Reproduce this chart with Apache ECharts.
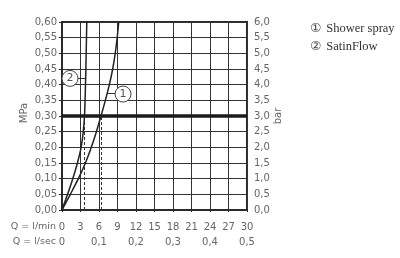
<!DOCTYPE html>
<html>
<head>
<meta charset="utf-8">
<script src="https://cdn.jsdelivr.net/npm/echarts@6/dist/echarts.min.js"></script>
<style>html,body{margin:0;padding:0;background:#fff}#c{width:400px;height:258px}</style>
</head>
<body>
<div id="c"></div>
<script>
// pressure levels (MPa)
const pressureMPa = [0, 0.05, 0.10, 0.15, 0.20, 0.25, 0.30, 0.35, 0.40, 0.45, 0.50, 0.55, 0.60];
// flow (l/min) at each pressure level
const showerSprayQ = [0, 1.35, 2.65, 3.80, 4.75, 5.58, 6.32, 7.03, 7.68, 8.22, 8.63, 8.95, 9.20];
const satinFlowQ   = [0, 0.90, 1.75, 2.50, 3.10, 3.45, 3.65, 3.74, 3.81, 3.87, 3.92, 3.97, 4.02];
const seriesNames = ['Shower spray', 'SatinFlow'];
const operatingPressure = 0.30;

const opIdx = pressureMPa.indexOf(operatingPressure);
const toPairs = q => q.map((v, i) => [v, pressureMPa[i]]);
const comma = (v, d) => v.toFixed(d).replace('.', ',');

const font = 'DejaVu Sans';
const grey = '#666';
const dark = '#2a2a2a';

const chart = echarts.init(document.getElementById('c'), null, {renderer: 'canvas'});

function circleMark(label, q, p) {
  return {
    coord: [q, p], value: label,
    symbol: 'circle', symbolSize: 16,
    itemStyle: {color: '#fff', borderColor: '#444', borderWidth: 1},
    label: {show: true, position: 'inside', formatter: label, color: '#555', fontSize: 11, fontFamily: font}
  };
}

chart.setOption({
  animation: false,
  backgroundColor: '#fff',
  grid: {left: 62, right: 153, top: 22, bottom: 48, show: true, borderColor: dark, borderWidth: 2},
  legend: {
    orient: 'vertical', left: 300, top: 17, icon: 'none', itemWidth: 0, itemHeight: 0, itemGap: 4,
    data: seriesNames,
    formatter: n => '{c|' + (n === seriesNames[0] ? '\u2460' : '\u2461') + '}' + n,
    textStyle: {
      fontFamily: 'Liberation Serif', fontSize: 12.5, color: '#333', lineHeight: 14,
      rich: {c: {fontFamily: 'DejaVu Sans', fontSize: 12.5, color: '#444', padding: [0, 5, 0, 0]}}
    }
  },
  xAxis: [{
    type: 'value', min: 0, max: 30, interval: 3, position: 'bottom',
    axisLine: {show: true, lineStyle: {color: dark, width: 2}},
    axisTick: {show: true, length: 2, lineStyle: {color: dark}},
    axisLabel: {color: grey, fontFamily: font, fontSize: 10, margin: 12},
    splitLine: {show: true, lineStyle: {color: '#333', width: 1}}
  }, {
    type: 'value', min: 0, max: 30, interval: 6, position: 'bottom', offset: 15,
    axisLine: {show: false}, axisTick: {show: false}, splitLine: {show: false},
    axisLabel: {color: grey, fontFamily: font, fontSize: 10, margin: 12,
      formatter: v => v === 0 ? '0' : comma(v / 60, 1)}
  }],
  yAxis: [{
    type: 'value', min: 0, max: 0.6, interval: 0.05, position: 'left',
    name: 'MPa', nameLocation: 'middle', nameGap: 33, nameRotate: 90,
    nameTextStyle: {color: grey, fontFamily: font, fontSize: 10, padding: [0, 0, 0, 6]},
    axisLine: {show: true, lineStyle: {color: dark, width: 2}},
    axisTick: {show: true, length: 3, lineStyle: {color: dark}},
    axisLabel: {color: grey, fontFamily: font, fontSize: 10, margin: 5, formatter: v => comma(v, 2)},
    splitLine: {show: true, lineStyle: {color: '#333', width: 1}}
  }, {
    type: 'value', min: 0, max: 6, interval: 0.5, position: 'right',
    name: 'bar', nameLocation: 'middle', nameGap: 26, nameRotate: 90,
    nameTextStyle: {color: grey, fontFamily: font, fontSize: 10},
    axisLine: {show: true, lineStyle: {color: dark, width: 2}},
    axisTick: {show: true, length: 4, lineStyle: {color: dark}},
    axisLabel: {color: grey, fontFamily: font, fontSize: 10, margin: 7, formatter: v => comma(v, 1)},
    splitLine: {show: false}
  }],
  graphic: [
    {type: 'text', x: 56, y: 227, style: {text: 'Q = l/min', textAlign: 'right', textVerticalAlign: 'middle', fill: grey, font: '9.5px "DejaVu Sans"'}},
    {type: 'text', x: 56, y: 242, style: {text: 'Q = l/sec', textAlign: 'right', textVerticalAlign: 'middle', fill: grey, font: '9.5px "DejaVu Sans"'}}
  ],
  series: [{
    name: seriesNames[0], type: 'line', xAxisIndex: 0, yAxisIndex: 0,
    data: toPairs(showerSprayQ), smooth: 0.3, showSymbol: false, symbol: 'none',
    lineStyle: {color: '#222', width: 1.5}, itemStyle: {color: '#222'}, z: 5,
    markLine: {
      silent: true, symbol: 'none', label: {show: false}, animation: false,
      data: [
        {yAxis: operatingPressure, lineStyle: {color: '#1a1a1a', width: 3.5, type: 'solid'}},
        [{coord: [showerSprayQ[opIdx], 0], lineStyle: {color: '#333', width: 1, type: [3, 2]}}, {coord: [showerSprayQ[opIdx], operatingPressure]}],
        [{coord: [7.35, 0.373], lineStyle: {color: '#333', width: 1, type: 'solid'}}, {coord: [8.6, 0.373]}]
      ]
    },
    markPoint: {silent: true, data: [circleMark('1', 9.9, 0.37)]}
  }, {
    name: seriesNames[1], type: 'line', xAxisIndex: 0, yAxisIndex: 0,
    data: toPairs(satinFlowQ), smooth: 0.3, showSymbol: false, symbol: 'none',
    lineStyle: {color: '#222', width: 1.5}, itemStyle: {color: '#222'}, z: 5,
    markLine: {
      silent: true, symbol: 'none', label: {show: false}, animation: false,
      data: [
        [{coord: [satinFlowQ[opIdx], 0], lineStyle: {color: '#333', width: 1, type: [3, 2]}}, {coord: [satinFlowQ[opIdx], operatingPressure]}],
        [{coord: [2.5, 0.42], lineStyle: {color: '#333', width: 1, type: 'solid'}}, {coord: [3.82, 0.42]}]
      ]
    },
    markPoint: {silent: true, data: [circleMark('2', 1.3, 0.42)]}
  }]
});
</script>
</body>
</html>
